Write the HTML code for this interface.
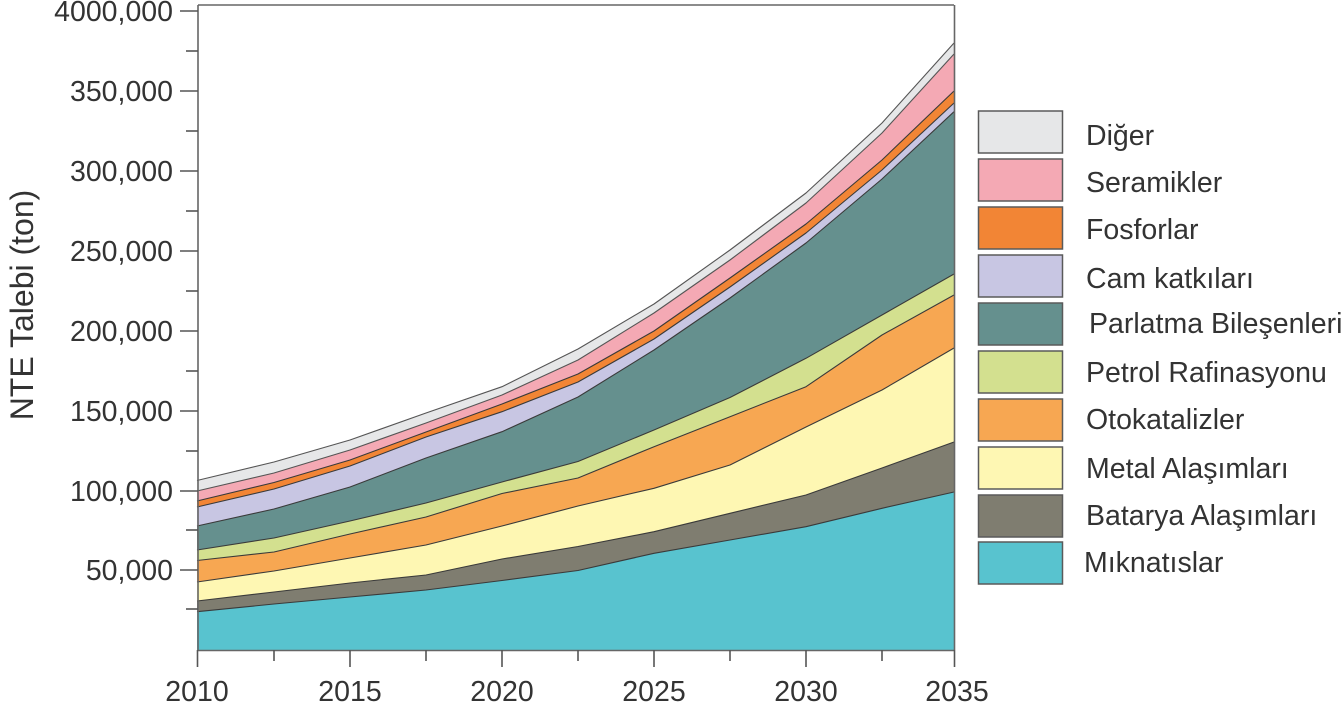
<!DOCTYPE html>
<html>
<head>
<meta charset="utf-8">
<style>
  html, body { margin: 0; padding: 0; background: #ffffff; }
  body { width: 1344px; height: 705px; overflow: hidden; }
  svg { display: block; }
  text { font-family: "Liberation Sans", "DejaVu Sans", sans-serif; fill: #333333; }
</style>
</head>
<body>
<svg width="1344" height="705" viewBox="0 0 1344 705" xmlns="http://www.w3.org/2000/svg">
  <rect x="0" y="0" width="1344" height="705" fill="#ffffff"/>

  <!-- Stacked areas (cumulative, drawn top-first) -->
  <!-- Diğer -->
  <polygon fill="#e6e7e8" points="197,480.5 274,462 350,440 426,413 502,386.7 578,349 654,304 730,250 806,193 882,123 954,43 954,650 197,650"/>
  <!-- Seramikler -->
  <polygon fill="#f4a9b4" points="197,491 274,473 350,450 426,423 502,395 578,360 654,313 730,260 806,203 882,133 954,54 954,650 197,650"/>
  <!-- Fosforlar -->
  <polygon fill="#f28535" points="197,501 274,482.5 350,460 426,432 502,404 578,374 654,331 730,278 806,224 882,160 954,91 954,650 197,650"/>
  <!-- Cam katkıları -->
  <polygon fill="#c8c6e3" points="197,507 274,489 350,466 426,437 502,411.7 578,382 654,339 730,287 806,233 882,170 954,103 954,650 197,650"/>
  <!-- Parlatma -->
  <polygon fill="#65908e" points="197,526 274,509 350,487 426,458 502,431.7 578,397 654,350 730,298 806,243 882,179 954,111.7 954,650 197,650"/>
  <!-- Petrol -->
  <polygon fill="#d3e08f" points="197,550 274,538 350,521 426,503 502,482 578,461.5 654,430 730,397.5 806,358.3 882,315 954,274 954,650 197,650"/>
  <!-- Otokatalizler -->
  <polygon fill="#f7a752" points="197,560.5 274,552 350,534 426,517 502,493.5 578,478 654,446.7 730,416.7 806,386.7 882,335 954,295 954,650 197,650"/>
  <!-- Metal -->
  <polygon fill="#fef7b3" points="197,582 274,571 350,558 426,545 502,526 578,506 654,488.3 730,465 806,427 882,390 954,348 954,650 197,650"/>
  <!-- Batarya -->
  <polygon fill="#7f7d70" points="197,601 274,592 350,583 426,575 502,559 578,546.5 654,531.7 730,513.3 806,495 882,468 954,442 954,650 197,650"/>
  <!-- Mıknatıslar -->
  <polygon fill="#58c3cf" points="197,611.7 274,604 350,597 426,590 502,580.5 578,570.5 654,553.3 730,540 806,526.7 882,508.3 954,492 954,650 197,650"/>

  <!-- Boundary lines -->
  <g fill="none" stroke="#3a3a3a" stroke-width="1.1" stroke-linejoin="round">
    <polyline stroke="#555" points="197,480.5 274,462 350,440 426,413 502,386.7 578,349 654,304 730,250 806,193 882,123 954,43"/>
    <polyline stroke="#555" points="197,491 274,473 350,450 426,423 502,395 578,360 654,313 730,260 806,203 882,133 954,54"/>
    <polyline points="197,501 274,482.5 350,460 426,432 502,404 578,374 654,331 730,278 806,224 882,160 954,91"/>
    <polyline points="197,507 274,489 350,466 426,437 502,411.7 578,382 654,339 730,287 806,233 882,170 954,103"/>
    <polyline points="197,526 274,509 350,487 426,458 502,431.7 578,397 654,350 730,298 806,243 882,179 954,111.7"/>
    <polyline points="197,550 274,538 350,521 426,503 502,482 578,461.5 654,430 730,397.5 806,358.3 882,315 954,274"/>
    <polyline points="197,560.5 274,552 350,534 426,517 502,493.5 578,478 654,446.7 730,416.7 806,386.7 882,335 954,295"/>
    <polyline points="197,582 274,571 350,558 426,545 502,526 578,506 654,488.3 730,465 806,427 882,390 954,348"/>
    <polyline points="197,601 274,592 350,583 426,575 502,559 578,546.5 654,531.7 730,513.3 806,495 882,468 954,442"/>
    <polyline points="197,611.7 274,604 350,597 426,590 502,580.5 578,570.5 654,553.3 730,540 806,526.7 882,508.3 954,492"/>
  </g>

  <!-- Frame -->
  <g stroke="#666666" stroke-width="1.6" fill="none">
    <line x1="198" y1="5" x2="954" y2="5"/>
    <line x1="198" y1="5" x2="198" y2="650"/>
    <line x1="954.5" y1="5" x2="954.5" y2="650"/>
    <line x1="198" y1="650.5" x2="954" y2="650.5"/>
  </g>

  <!-- Y ticks -->
  <g stroke="#555555" stroke-width="1.6">
    <line x1="180" y1="11" x2="198" y2="11"/>
    <line x1="186" y1="51" x2="198" y2="51"/>
    <line x1="180" y1="91" x2="198" y2="91"/>
    <line x1="186" y1="131" x2="198" y2="131"/>
    <line x1="180" y1="171" x2="198" y2="171"/>
    <line x1="186" y1="211" x2="198" y2="211"/>
    <line x1="180" y1="251" x2="198" y2="251"/>
    <line x1="186" y1="291" x2="198" y2="291"/>
    <line x1="180" y1="331" x2="198" y2="331"/>
    <line x1="186" y1="371" x2="198" y2="371"/>
    <line x1="180" y1="411" x2="198" y2="411"/>
    <line x1="186" y1="451" x2="198" y2="451"/>
    <line x1="180" y1="491" x2="198" y2="491"/>
    <line x1="186" y1="530" x2="198" y2="530"/>
    <line x1="180" y1="570" x2="198" y2="570"/>
    <line x1="186" y1="609" x2="198" y2="609"/>
  </g>

  <!-- X ticks -->
  <g stroke="#555555" stroke-width="1.6">
    <line x1="197.5" y1="650" x2="197.5" y2="667"/>
    <line x1="274" y1="650" x2="274" y2="661"/>
    <line x1="350" y1="650" x2="350" y2="667"/>
    <line x1="426" y1="650" x2="426" y2="661"/>
    <line x1="502" y1="650" x2="502" y2="667"/>
    <line x1="578" y1="650" x2="578" y2="661"/>
    <line x1="654" y1="650" x2="654" y2="667"/>
    <line x1="730" y1="650" x2="730" y2="661"/>
    <line x1="806" y1="650" x2="806" y2="667"/>
    <line x1="882" y1="650" x2="882" y2="661"/>
    <line x1="954.5" y1="650" x2="954.5" y2="667"/>
  </g>

  <!-- Y labels -->
  <g font-size="28.5" text-anchor="end">
    <text x="173" y="21">4000,000</text>
    <text x="173" y="101">350,000</text>
    <text x="173" y="181">300,000</text>
    <text x="173" y="261">250,000</text>
    <text x="173" y="341">200,000</text>
    <text x="173" y="421">150,000</text>
    <text x="173" y="501">100,000</text>
    <text x="173" y="580">50,000</text>
  </g>

  <!-- X labels -->
  <g font-size="28.5" text-anchor="middle">
    <text x="197" y="701">2010</text>
    <text x="350" y="701">2015</text>
    <text x="502" y="701">2020</text>
    <text x="654" y="701">2025</text>
    <text x="806" y="701">2030</text>
    <text x="957" y="701">2035</text>
  </g>

  <!-- Y axis title -->
  <text font-size="32" text-anchor="middle" transform="translate(33,305) rotate(-90)">NTE Talebi (ton)</text>

  <!-- Legend -->
  <g stroke="#5a5a5a" stroke-width="1.5">
    <rect x="978.5" y="111" width="84" height="42" fill="#e6e7e8"/>
    <rect x="978.5" y="159" width="84" height="42" fill="#f4a9b4"/>
    <rect x="978.5" y="207" width="84" height="42" fill="#f28535"/>
    <rect x="978.5" y="255" width="84" height="42" fill="#c8c6e3"/>
    <rect x="978.5" y="303" width="84" height="42" fill="#65908e"/>
    <rect x="978.5" y="351" width="84" height="42" fill="#d3e08f"/>
    <rect x="978.5" y="399" width="84" height="42" fill="#f7a752"/>
    <rect x="978.5" y="447" width="84" height="42" fill="#fef7b3"/>
    <rect x="978.5" y="495" width="84" height="42" fill="#7f7d70"/>
    <rect x="978.5" y="542" width="84" height="42" fill="#58c3cf"/>
  </g>
  <g font-size="28.5">
    <text x="1086" y="145">Diğer</text>
    <text x="1086" y="192">Seramikler</text>
    <text x="1086" y="239">Fosforlar</text>
    <text x="1086" y="288">Cam katkıları</text>
    <text x="1089" y="333">Parlatma Bileşenleri</text>
    <text x="1086" y="382">Petrol Rafinasyonu</text>
    <text x="1086" y="429">Otokatalizler</text>
    <text x="1086" y="478">Metal Alaşımları</text>
    <text x="1086" y="525">Batarya Alaşımları</text>
    <text x="1084" y="572">Mıknatıslar</text>
  </g>
</svg>
</body>
</html>
